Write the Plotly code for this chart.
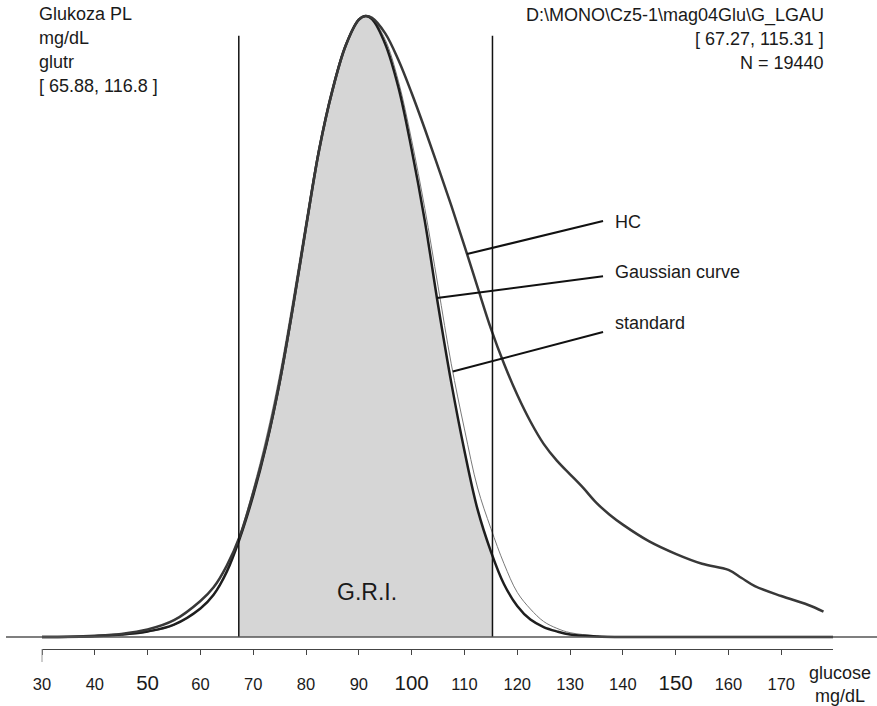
import numpy as np
import plotly.graph_objects as go

# ---------------- data ----------------
gauss_x = [30, 40, 45, 50, 55, 60, 62.5, 65, 67.5, 70, 72.5, 75, 77.5, 80, 82.5, 85, 87.5, 90, 91.3, 92.5,
           95, 97.5, 100, 102.5, 105, 107.5, 110, 112.5, 115, 117.5, 120, 122.5, 125, 127.5, 130, 135, 140, 180]
gauss_y = [0, 0.0012, 0.004, 0.009, 0.02, 0.046, 0.068, 0.105, 0.16, 0.228, 0.31, 0.41, 0.53, 0.66, 0.785,
           0.88, 0.952, 0.994, 1.0, 0.995, 0.955, 0.885, 0.785, 0.67, 0.535, 0.41, 0.30, 0.205, 0.138, 0.085,
           0.05, 0.028, 0.016, 0.009, 0.004, 0.001, 0, 0]

std_x = gauss_x
std_y = [0, 0.001, 0.003, 0.008, 0.019, 0.046, 0.069, 0.108, 0.166, 0.238, 0.322, 0.422, 0.542, 0.67, 0.792,
         0.886, 0.955, 0.995, 1.0, 0.996, 0.962, 0.895, 0.80, 0.69, 0.565, 0.44, 0.335, 0.24, 0.175, 0.118,
         0.072, 0.045, 0.025, 0.014, 0.007, 0.002, 0, 0]

hc_x = [30, 35, 40, 45, 50, 55, 60, 62.5, 65, 67.5, 70, 72.5, 75, 77.5, 80, 82.5, 85, 87.5, 90, 91.3,
        92.5, 95, 97.5, 100, 102.5, 105, 107.5, 110, 112.5, 115, 117.5, 120, 122.5, 125, 127.5, 130, 132.5,
        135, 137.5, 140, 145, 150, 155, 160, 162.5, 165, 170, 175, 178]
hc_y = [0, 0.0005, 0.002, 0.005, 0.012, 0.027, 0.058, 0.08, 0.115, 0.163, 0.232, 0.312, 0.41, 0.53, 0.66,
        0.785, 0.88, 0.952, 0.994, 1.0, 0.997, 0.972, 0.929, 0.876, 0.818, 0.757, 0.695, 0.63, 0.563, 0.497,
        0.44, 0.39, 0.347, 0.311, 0.284, 0.262, 0.24, 0.216, 0.197, 0.181, 0.154, 0.134, 0.118, 0.108,
        0.095, 0.082, 0.066, 0.052, 0.041]

gri_bounds = [67.27, 115.31]

tick_vals = [30, 40, 50, 60, 70, 80, 90, 100, 110, 120, 130, 140, 150, 160, 170]
big_ticks = [50, 100, 150]

curve_labels = ["HC", "Gaussian curve", "standard"]
pointer_on_curve_x = [110.5, 104.8, 107.8]
pointer_tail_x = 136.25
pointer_tail_y = [0.670, 0.581, 0.491]
label_x = 138.1
label_y = [0.668, 0.588, 0.506]

left_info = ["Glukoza PL", "mg/dL", "glutr", "[ 65.88, 116.8 ]"]
right_info = ["D:\\MONO\\Cz5-1\\mag04Glu\\G_LGAU", "[ 67.27, 115.31 ]", "N = 19440"]

# ---------------- layout geometry ----------------
W, H = 877, 706
PL, PR, PB = 42, 833, 649          # plot area in pixels
Y_PER_PX = 1 / 621.0
Y0_PX = 637                        # pixel row of y = 0
y_bottom = -(PB - Y0_PX) * Y_PER_PX
y_top = Y0_PX * Y_PER_PX


def pxx(px):
    return (px - PL) / (PR - PL)


def pxy(py):
    return (PB - py) / PB


FONT = "Liberation Sans, Arial, sans-serif"
TXT = "#1a1a1a"

fig = go.Figure()

# G.R.I. shaded area under the Gaussian curve
gx = np.array(gauss_x, dtype=float)
gy = np.array(gauss_y, dtype=float)
inside = (gx > gri_bounds[0]) & (gx < gri_bounds[1])
fill_x = [gri_bounds[0]] + list(gx[inside]) + [gri_bounds[1]]
fill_y = [float(np.interp(gri_bounds[0], gx, gy))] + list(gy[inside]) + [float(np.interp(gri_bounds[1], gx, gy))]
fig.add_trace(go.Scatter(x=fill_x, y=fill_y, mode="lines", line=dict(width=0, shape="spline"),
                         fill="tozeroy", fillcolor="#d6d6d6", hoverinfo="skip", showlegend=False))

# curves
fig.add_trace(go.Scatter(x=std_x, y=std_y, mode="lines",
                         line=dict(color="#7a7a7a", width=1, shape="spline"), showlegend=False))
fig.add_trace(go.Scatter(x=gauss_x, y=gauss_y, mode="lines",
                         line=dict(color="#1e1e1e", width=2.5, shape="spline"), showlegend=False))
fig.add_trace(go.Scatter(x=hc_x, y=hc_y, mode="lines",
                         line=dict(color="#383838", width=2.5, shape="spline"), showlegend=False))

# G.R.I. boundaries
for b in gri_bounds:
    fig.add_trace(go.Scatter(x=[b, b], y=[0, 0.968], mode="lines",
                             line=dict(color="#111111", width=1.5), showlegend=False))

# baseline
fig.add_shape(type="line", xref="paper", yref="y", x0=pxx(6), x1=pxx(877), y0=0, y1=0,
              line=dict(color="#555555", width=1.5))
# longer first tick
fig.add_shape(type="line", xref="paper", yref="paper", x0=0, x1=0, y0=pxy(649), y1=pxy(662),
              line=dict(color="#9a9a9a", width=1))

# pointer lines + labels
curves = [(hc_x, hc_y), (gauss_x, gauss_y), (std_x, std_y)]
for (cx, cy), px_on, ty, lab, ly in zip(curves, pointer_on_curve_x, pointer_tail_y, curve_labels, label_y):
    py_on = float(np.interp(px_on, cx, cy))
    fig.add_shape(type="line", xref="x", yref="y", x0=px_on, y0=py_on, x1=pointer_tail_x, y1=ty,
                  line=dict(color="#111111", width=2))
    fig.add_annotation(x=label_x, y=ly, xref="x", yref="y", text=lab, showarrow=False,
                       xanchor="left", yanchor="middle", font=dict(family=FONT, size=18, color=TXT))

fig.add_annotation(x=91.5, y=0.0725, xref="x", yref="y", text="G.R.I.", showarrow=False,
                   font=dict(family=FONT, size=23, color=TXT))

# corner info blocks
for i, t in enumerate(left_info):
    fig.add_annotation(x=pxx(37), y=pxy(14 + 24 * i), xref="paper", yref="paper", text=t, showarrow=False,
                       xanchor="left", yanchor="middle", font=dict(family=FONT, size=18, color=TXT))
for i, t in enumerate(right_info):
    fig.add_annotation(x=pxx(826), y=pxy(15.5 + 24 * i), xref="paper", yref="paper", text=t, showarrow=False,
                       xanchor="right", yanchor="middle", font=dict(family=FONT, size=18, color=TXT))

# axis title
fig.add_annotation(x=pxx(840), y=pxy(673), xref="paper", yref="paper", text="glucose", showarrow=False,
                   xanchor="center", yanchor="middle", font=dict(family=FONT, size=18, color=TXT))
fig.add_annotation(x=pxx(840), y=pxy(696), xref="paper", yref="paper", text="mg/dL", showarrow=False,
                   xanchor="center", yanchor="middle", font=dict(family=FONT, size=18, color=TXT))

tick_text = [f'<span style="font-size:20.5px">{v}</span>' if v in big_ticks else str(v) for v in tick_vals]

fig.update_layout(
    width=W, height=H,
    margin=dict(l=PL, r=W - PR, t=0, b=H - PB, pad=0),
    paper_bgcolor="white", plot_bgcolor="white",
    showlegend=False,
    xaxis=dict(range=[30, 179.8], showgrid=False, zeroline=False, showline=True, linecolor="#444444",
               linewidth=1, ticks="outside", ticklen=5, tickwidth=1, tickcolor="#444444",
               tickvals=tick_vals, ticktext=tick_text, ticklabelstandoff=15,
               tickfont=dict(family=FONT, size=16.5, color=TXT), fixedrange=True),
    yaxis=dict(range=[y_bottom, y_top], visible=False, fixedrange=True),
)

fig.write_html("out.html")
